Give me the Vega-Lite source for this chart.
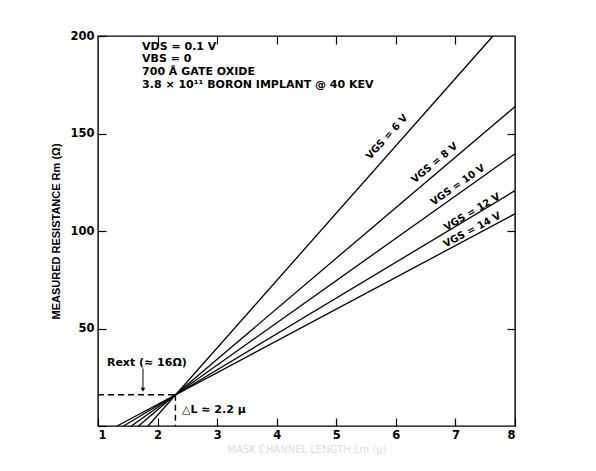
{
  "$schema": "https://vega.github.io/schema/vega-lite/v6.json",
  "width": 417,
  "height": 390,
  "autosize": {"type": "none"},
  "padding": {"left": 98, "top": 36, "right": 81, "bottom": 45},
  "background": "white",
  "config": {
    "view": {"stroke": "black", "strokeWidth": 1.4},
    "font": "DejaVu Sans",
    "axis": {
      "domain": false, "grid": false, "tickColor": "black", "tickWidth": 1.2, "tickSize": -8,
      "labelFont": "DejaVu Sans", "labelFontWeight": "bold", "labelFontSize": 11.5, "labelColor": "black"
    },
    "text": {"font": "DejaVu Sans", "fontWeight": "bold", "color": "black"}
  },
  "resolve": {"axis": {"x": "independent", "y": "independent"}},
  "datasets": {
    "lines": [
      {"vgs": "6 V", "x": 1.84, "y": 0}, {"vgs": "6 V", "x": 7.63, "y": 200},
      {"vgs": "8 V", "x": 1.68, "y": 0}, {"vgs": "8 V", "x": 8, "y": 163.8},
      {"vgs": "10 V", "x": 1.56, "y": 0}, {"vgs": "10 V", "x": 8, "y": 139.6},
      {"vgs": "12 V", "x": 1.43, "y": 0}, {"vgs": "12 V", "x": 8, "y": 120.7},
      {"vgs": "14 V", "x": 1.32, "y": 0}, {"vgs": "14 V", "x": 8, "y": 108.8}
    ],
    "dash": [
      {"x": 1, "y": 16, "x2": 2.3, "y2": 16},
      {"x": 2.3, "y": 16, "x2": 2.3, "y2": 0}
    ],
    "header": [
      {"x": 1.74, "y": 194.4, "t": "VDS = 0.1 V"},
      {"x": 1.74, "y": 188, "t": "VBS = 0"},
      {"x": 1.74, "y": 181.5, "t": "700 Å GATE OXIDE"},
      {"x": 1.74, "y": 175.1, "t": "3.8 × 10¹¹ BORON IMPLANT @ 40 KEV"}
    ]
  },
  "layer": [
    {
      "data": {"name": "lines"},
      "mark": {"type": "line", "color": "black", "strokeWidth": 1.3},
      "encoding": {
        "x": {"field": "x", "type": "quantitative",
              "scale": {"domain": [1, 8], "nice": false, "zero": false},
              "axis": {"orient": "bottom", "values": [1, 2, 3, 4, 5, 6, 7, 8], "labelPadding": 11,
                       "title": "MASK CHANNEL LENGTH Lm (μ)", "titleColor": "#dcdcdc", "titleFontSize": 10, "titleFontWeight": "normal", "titlePadding": 4}},
        "y": {"field": "y", "type": "quantitative",
              "scale": {"domain": [0, 200], "nice": false},
              "axis": {"orient": "left", "values": [0, 50, 100, 150, 200], "labelPadding": 12,
                       "labelExpr": "datum.value == 0 ? '' : datum.label",
                       "title": "MEASURED RESISTANCE Rm (Ω)", "titleFont": "Liberation Sans",
                       "titleFontSize": 11, "titleFontWeight": "bold", "titleColor": "black", "titlePadding": 8}},
        "detail": {"field": "vgs"}
      }
    },
    {
      "data": {"name": "lines"},
      "mark": {"type": "point", "opacity": 0},
      "encoding": {
        "x": {"field": "x", "type": "quantitative",
              "axis": {"orient": "top", "values": [2, 3, 4, 5, 6, 7], "labels": false, "title": null}},
        "y": {"field": "y", "type": "quantitative",
              "axis": {"orient": "right", "values": [50, 100, 150], "labels": false, "title": null}}
      }
    },
    {
      "data": {"name": "dash"},
      "mark": {"type": "rule", "color": "black", "strokeWidth": 1.4, "strokeDash": [6, 4]},
      "encoding": {
        "x": {"field": "x", "type": "quantitative", "axis": null},
        "y": {"field": "y", "type": "quantitative", "axis": null},
        "x2": {"field": "x2"},
        "y2": {"field": "y2"}
      }
    },
    {
      "data": {"values": [{"x": 1.755, "y": 29.5, "y2": 19}]},
      "mark": {"type": "rule", "color": "black", "strokeWidth": 1},
      "encoding": {
        "x": {"field": "x", "type": "quantitative", "axis": null},
        "y": {"field": "y", "type": "quantitative", "axis": null},
        "y2": {"field": "y2"}
      }
    },
    {
      "data": {"values": [{"x": 1.755, "y": 18.6}]},
      "mark": {"type": "point", "shape": "triangle-down", "filled": true, "color": "black", "size": 22, "opacity": 1},
      "encoding": {
        "x": {"field": "x", "type": "quantitative", "axis": null},
        "y": {"field": "y", "type": "quantitative", "axis": null}
      }
    },
    {
      "data": {"name": "header"},
      "mark": {"type": "text", "align": "left", "baseline": "middle", "fontSize": 11},
      "encoding": {
        "x": {"field": "x", "type": "quantitative", "axis": null},
        "y": {"field": "y", "type": "quantitative", "axis": null},
        "text": {"field": "t"}
      }
    },
    {
      "data": {"values": [{"x": 1.15, "y": 32.3, "t": "Rext (≈ 16Ω)"}, {"x": 2.41, "y": 8.2, "t": "△L ≈ 2.2 μ"}]},
      "mark": {"type": "text", "align": "left", "baseline": "middle", "fontSize": 11},
      "encoding": {
        "x": {"field": "x", "type": "quantitative", "axis": null},
        "y": {"field": "y", "type": "quantitative", "axis": null},
        "text": {"field": "t"}
      }
    },
    {
      "data": {"values": [{"x": 5.85, "y": 148.2, "t": "VGS = 6 V"}]},
      "mark": {"type": "text", "align": "center", "baseline": "middle", "fontSize": 10, "angle": -48},
      "encoding": {"x": {"field": "x", "type": "quantitative", "axis": null}, "y": {"field": "y", "type": "quantitative", "axis": null}, "text": {"field": "t"}}
    },
    {
      "data": {"values": [{"x": 6.65, "y": 134.9, "t": "VGS = 8 V"}]},
      "mark": {"type": "text", "align": "center", "baseline": "middle", "fontSize": 10, "angle": -40},
      "encoding": {"x": {"field": "x", "type": "quantitative", "axis": null}, "y": {"field": "y", "type": "quantitative", "axis": null}, "text": {"field": "t"}}
    },
    {
      "data": {"values": [{"x": 7.04, "y": 123.6, "t": "VGS = 10 V"}]},
      "mark": {"type": "text", "align": "center", "baseline": "middle", "fontSize": 10, "angle": -35},
      "encoding": {"x": {"field": "x", "type": "quantitative", "axis": null}, "y": {"field": "y", "type": "quantitative", "axis": null}, "text": {"field": "t"}}
    },
    {
      "data": {"values": [{"x": 7.28, "y": 109.7, "t": "VGS = 12 V"}]},
      "mark": {"type": "text", "align": "center", "baseline": "middle", "fontSize": 10, "angle": -31},
      "encoding": {"x": {"field": "x", "type": "quantitative", "axis": null}, "y": {"field": "y", "type": "quantitative", "axis": null}, "text": {"field": "t"}}
    },
    {
      "data": {"values": [{"x": 7.28, "y": 100.5, "t": "VGS = 14 V"}]},
      "mark": {"type": "text", "align": "center", "baseline": "middle", "fontSize": 10, "angle": -28},
      "encoding": {"x": {"field": "x", "type": "quantitative", "axis": null}, "y": {"field": "y", "type": "quantitative", "axis": null}, "text": {"field": "t"}}
    }
  ]
}
